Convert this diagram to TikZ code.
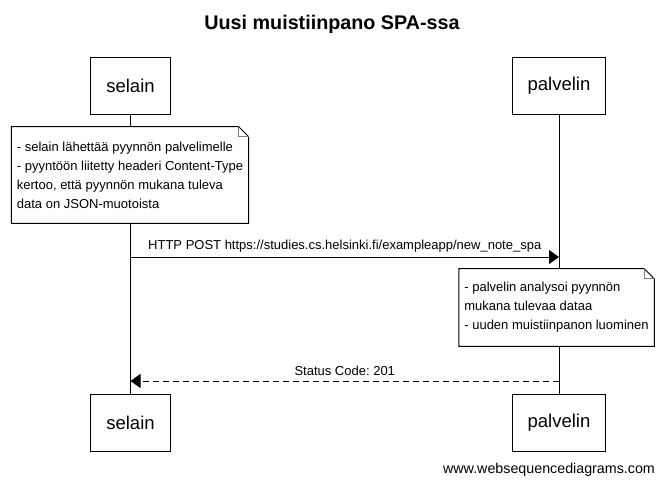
\documentclass[tikz,border=0pt]{standalone}
\usepackage{fontspec}
\setmainfont{Liberation Sans}
\usetikzlibrary{calc}
\usetikzlibrary{arrows.meta}
\frenchspacing

\tikzset{
  actor/.style={draw,line width=0.75pt,fill=white,font=\fontsize{13.9}{16}\selectfont,minimum height=42.75pt,inner xsep=11.6pt},
  notebox/.style={fill=white,align=left,font=\fontsize{9.75}{14.25}\selectfont,inner xsep=4pt},
  msg/.style={font=\fontsize{9.75}{12}\selectfont}
}

\begin{document}
\begin{tikzpicture}[x=0.75pt,y=-0.75pt,>={Triangle[length=7.5pt,width=10.5pt]}]
        \useasboundingbox (0,0) rectangle (663,485);

        % draw the title
        \node[font=\bfseries\fontsize{14.8}{17}\selectfont] (title) at (332,24) {Uusi muistiinpano SPA-ssa};

        % participants, top and bottom
        \node[actor] (selainA) at (130.5,86) {selain};
        \node[actor] (palvelinA) at (559,86) {palvelin};
        \node[actor] (selainB) at (130.5,423) {selain};
        \node[actor] (palvelinB) at (559,423) {palvelin};

        % draw the lifelines
        \foreach \p in {selain,palvelin} {
                \draw[line width=0.75pt] (\p A.south) -- (\p B.north);
        }

        % notes
        \node[notebox,minimum width=177pt,minimum height=72pt] (noteA) at (130,175)
                {- selain lähettää pyynnön palvelimelle\\
                 - pyyntöön liitetty headeri Content-Type\\
                 kertoo, että pyynnön mukana tuleva\\
                 data on JSON-muotoista};
        \node[notebox,minimum width=144.75pt,minimum height=57.75pt] (noteB) at (556.5,307.5)
                {- palvelin analysoi pyynnön\\
                 mukana tulevaa dataa\\
                 - uuden muistiinpanon luominen};
        \foreach \n in {noteA,noteB} {
                % outline with the folded corner
                \draw[line width=0.75pt] (\n.north west) -- ($(\n.north east)+(-10,0)$)
                        -- ($(\n.north east)+(0,10)$) -- (\n.south east) -- (\n.south west) -- cycle;
                \draw[gray,line width=0.75pt] ($(\n.north east)+(-10,0)$) -- ($(\n.north east)+(-10,10)$)
                        -- ($(\n.north east)+(0,10)$);
        }

        % draw the messages
        \coordinate (postS) at (selainA |- 0,257);
        \coordinate (postE) at (palvelinA |- 0,257);
        \coordinate (statS) at (palvelinA |- 0,381);
        \coordinate (statE) at (selainA |- 0,381);
        \draw[->,line width=0.75pt] (postS) -- (postE)
                node[midway,above,msg] {HTTP POST https://studies.cs.helsinki.fi/exampleapp/new\_note\_spa};
        \draw[->,line width=0.75pt,dash pattern=on 4.5pt off 3pt] (statS) -- (statE)
                node[midway,above,msg] {Status Code: 201};

        % footer
        \node[font=\fontsize{10.7}{13}\selectfont] (footer) at (549,470) {www.websequencediagrams.com};
\end{tikzpicture}
\end{document}
